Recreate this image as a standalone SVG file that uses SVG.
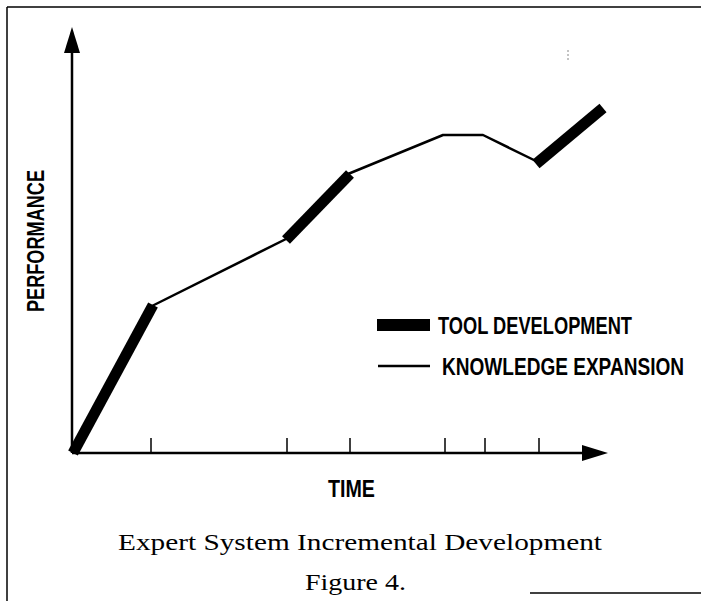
<svg xmlns="http://www.w3.org/2000/svg" width="701" height="601" viewBox="0 0 701 601">
<style>
.frame{stroke:#000;stroke-width:1.5;fill:none}
.axis{stroke:#000;stroke-width:2.5;fill:none}
.tick{stroke:#000;stroke-width:1.5}
.thin{stroke:#000;stroke-width:2.5;fill:none;stroke-linejoin:round}
.thick{stroke:#000;stroke-width:11;fill:none;stroke-linecap:butt}
.lbl{font-family:"Liberation Sans",Arial,sans-serif;font-weight:bold;font-size:23.5px;fill:#000}
.cap{font-family:"Liberation Serif","Times New Roman",serif;font-size:23.5px;fill:#000}
</style>
<rect width="701" height="601" fill="#fff"/>
<g id="frame">
<line class="frame" x1="7" y1="7" x2="701" y2="7"/>
<line class="frame" x1="7" y1="7" x2="7" y2="601"/>
<line class="frame" x1="530" y1="593" x2="701" y2="593"/>
<line x1="568" y1="50" x2="568" y2="62" stroke="#888" stroke-width="1" stroke-dasharray="2,2"/>
</g>
<g id="axes">
<line class="axis" x1="72" y1="453" x2="72" y2="45"/>
<polygon points="72,27 64,53 80,53" fill="#000"/>
<line class="axis" x1="72" y1="453" x2="585" y2="453"/>
<polygon points="608,453 582,445 582,461" fill="#000"/>
<g class="tick">
<line x1="151" y1="438" x2="151" y2="453"/>
<line x1="287" y1="438" x2="287" y2="453"/>
<line x1="350" y1="438" x2="350" y2="453"/>
<line x1="445" y1="438" x2="445" y2="453"/>
<line x1="485" y1="438" x2="485" y2="453"/>
<line x1="539" y1="438" x2="539" y2="453"/>
</g>
</g>
<g id="curve">
<polyline class="thin" points="152,306 288,238"/>
<polyline class="thin" points="348,174 443,135 483,135 538,162"/>
<line class="thick" x1="73" y1="453" x2="153" y2="305"/>
<line class="thick" x1="286" y1="240" x2="350" y2="174"/>
<line class="thick" x1="536" y1="164" x2="603" y2="108"/>
</g>
<g id="legend">
<rect x="377" y="319" width="53" height="12" fill="#000"/>
<text class="lbl" x="438" y="334" textLength="194" lengthAdjust="spacingAndGlyphs">TOOL DEVELOPMENT</text>
<line x1="378" y1="366" x2="430" y2="366" stroke="#000" stroke-width="2.5"/>
<text class="lbl" x="442" y="375" textLength="242" lengthAdjust="spacingAndGlyphs">KNOWLEDGE EXPANSION</text>
</g>
<g id="labels">
<text class="lbl" transform="translate(44,312) rotate(-90)" x="0" y="0" textLength="142" lengthAdjust="spacingAndGlyphs">PERFORMANCE</text>
<text class="lbl" x="328" y="497" textLength="47" lengthAdjust="spacingAndGlyphs">TIME</text>
<text class="cap" x="118" y="550" textLength="484" lengthAdjust="spacingAndGlyphs">Expert System Incremental Development</text>
<text class="cap" x="305" y="590" textLength="101" lengthAdjust="spacingAndGlyphs">Figure 4.</text>
</g>
</svg>
